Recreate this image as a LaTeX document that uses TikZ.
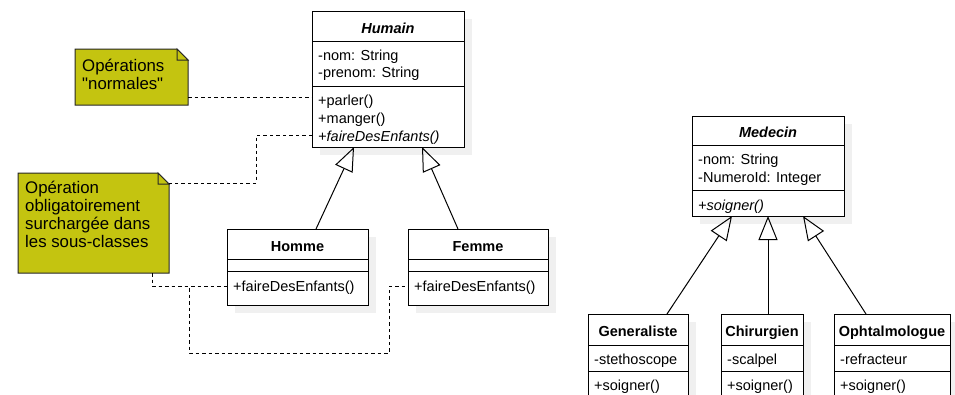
\documentclass[tikz,border=0pt]{standalone}
\usepackage{fontspec}
\setmainfont{Liberation Sans}[Ligatures=TeXOff]
\usetikzlibrary{calc,arrows.meta}
\definecolor{notecol}{RGB}{196,196,16}
\definecolor{shadowcol}{RGB}{240,240,240}
\newcommand\classbox[5]{%
  \fill[shadowcol] (#2+8,#3+8) rectangle ++(#4,#5);
  \node[box, minimum width=#4pt, minimum height=#5pt] (#1) at (#2,#3) {};
}
\begin{document}
\begin{tikzpicture}[x=1pt,y=-1pt,
  box/.style={draw=black, line width=1pt, fill=white, inner sep=0pt, outer sep=0pt, anchor=north west},
  divider/.style={draw=black, line width=1pt},
  txt/.style={anchor=base west, inner sep=0pt, font=\fontsize{14.5}{17}\selectfont},
  hdr/.style={anchor=base, inner sep=0pt, font=\fontsize{14.5}{17}\selectfont\bfseries},
  notetxt/.style={anchor=north west, inner sep=0pt, align=left, font=\fontsize{16.8}{18}\selectfont},
  notearea/.style={inner sep=0pt, outer sep=0pt, anchor=north west},
  notefill/.style={fill=notecol, draw=black!85, line width=1pt, line join=miter},
  dashline/.style={draw=black, line width=1pt, dash pattern=on 3.5pt off 3pt},
  inherit/.style={draw=black, line width=1pt, -{Triangle[open, length=24pt, width=19pt]}},
]
\clip (0,0) rectangle (955,394);
\useasboundingbox (0,0) rectangle (955,394);

% ---------- Humain ----------
\classbox{humain}{312}{11}{152}{136}
\draw[divider] (312,41) -- (464,41);
\draw[divider] (312,86) -- (464,86);
\node[hdr] (humainT) at (388,33) {\textit{Humain}};
\node[txt] (humainA1) at (318,60) {-nom: String};
\node[txt] (humainA2) at (318,77) {-prenom: String};
\node[txt] (humainM1) at (318,105) {+parler()};
\node[txt] (humainM2) at (318,123) {+manger()};
\node[txt] (humainM3) at (318,141) {\textit{+faireDesEnfants()}};

% ---------- Homme ----------
\classbox{homme}{227}{229}{141}{76}
\draw[divider] (227,259) -- (368,259);
\draw[divider] (227,271) -- (368,271);
\node[hdr] (hommeT) at (297.5,251) {Homme};
\node[txt] (hommeM1) at (233,291) {+faireDesEnfants()};

% ---------- Femme ----------
\classbox{femme}{408}{229}{140}{76}
\draw[divider] (408,259) -- (548,259);
\draw[divider] (408,271) -- (548,271);
\node[hdr] (femmeT) at (478,251) {Femme};
\node[txt] (femmeM1) at (414,291) {+faireDesEnfants()};

% ---------- Medecin ----------
\classbox{medecin}{692}{116}{152}{100}
\draw[divider] (692,145) -- (844,145);
\draw[divider] (692,190) -- (844,190);
\node[hdr] (medecinT) at (768,137) {\textit{Medecin}};
\node[txt] (medecinA1) at (698,164) {-nom: String};
\node[txt] (medecinA2) at (698,182) {-NumeroId: Integer};
\node[txt] (medecinM1) at (698,210) {\textit{+soigner()}};

% ---------- Generaliste ----------
\classbox{gen}{588}{314}{100}{90}
\draw[divider] (588,345) -- (688,345);
\draw[divider] (588,371) -- (688,371);
\node[hdr] (genT) at (638,336) {Generaliste};
\node[txt] (genA1) at (594,364) {-stethoscope};
\node[txt] (genM1) at (594,390) {+soigner()};

% ---------- Chirurgien ----------
\classbox{chir}{721}{314}{82}{90}
\draw[divider] (721,345) -- (803,345);
\draw[divider] (721,371) -- (803,371);
\node[hdr] (chirT) at (762,336) {Chirurgien};
\node[txt] (chirA1) at (727,364) {-scalpel};
\node[txt] (chirM1) at (727,390) {+soigner()};

% ---------- Ophtalmologue ----------
\classbox{oph}{834}{314}{116}{90}
\draw[divider] (834,345) -- (950,345);
\draw[divider] (834,371) -- (950,371);
\node[hdr] (ophT) at (892,336) {Ophtalmologue};
\node[txt] (ophA1) at (840,364) {-refracteur};
\node[txt] (ophM1) at (840,390) {+soigner()};

% ---------- Notes ----------
\node[notearea, minimum width=113pt, minimum height=56pt] (n1) at (75,49) {};
\filldraw[notefill] (n1.north west) -- ($(n1.north east)+(-11,0)$) -- ($(n1.north east)+(0,11)$) -- (n1.south east) -- (n1.south west) -- cycle;
\draw[notefill] ($(n1.north east)+(-11,0)$) -- ($(n1.north east)+(-11,11)$) -- ($(n1.north east)+(0,11)$) -- cycle;
\node[notetxt] (n1T) at (82,56.5) {\rule{0pt}{15pt}Opérations\\"normales"};

\node[notearea, minimum width=151pt, minimum height=100pt] (n2) at (18,173) {};
\filldraw[notefill] (n2.north west) -- ($(n2.north east)+(-11,0)$) -- ($(n2.north east)+(0,11)$) -- (n2.south east) -- (n2.south west) -- cycle;
\draw[notefill] ($(n2.north east)+(-11,0)$) -- ($(n2.north east)+(-11,11)$) -- ($(n2.north east)+(0,11)$) -- cycle;
\node[notetxt] (n2T) at (25,178.5) {\rule{0pt}{15pt}Opération\\obligatoirement\\surchargée dans\\les sous-classes};

% ---------- Inheritance ----------
\draw[inherit] ($(homme.north west)+(89,0)$) -- ($(humain.south west)+(42,0)$);
\draw[inherit] ($(femme.north west)+(50,0)$) -- ($(humain.south west)+(110,0)$);
\draw[inherit] ($(gen.north west)+(79,0)$) -- ($(medecin.south west)+(40,0)$);
\draw[inherit] ($(chir.north west)+(47,0)$) -- ($(medecin.south west)+(76,0)$);
\draw[inherit] ($(oph.north west)+(32,0)$) -- ($(medecin.south west)+(111,0)$);

% ---------- Note links ----------
\draw[dashline] ($(n1.north east)+(0,48)$) -- ($(humain.north west)+(0,86)$);
\draw[dashline] ($(humain.north west)+(0,124)$) -- (256,135) -- (256,183) -- ($(n2.north east)+(0,10)$);
\draw[dashline] ($(n2.south west)+(134,0)$) -- (152,286) -- ($(homme.north west)+(0,57)$);
\draw[dashline] ($(n2.south west)+(134,0)$) -- (152,286) -- (189,286) -- (189,353) -- (389,353) -- (389,286) -- ($(femme.north west)+(0,57)$);
\end{tikzpicture}
\end{document}
